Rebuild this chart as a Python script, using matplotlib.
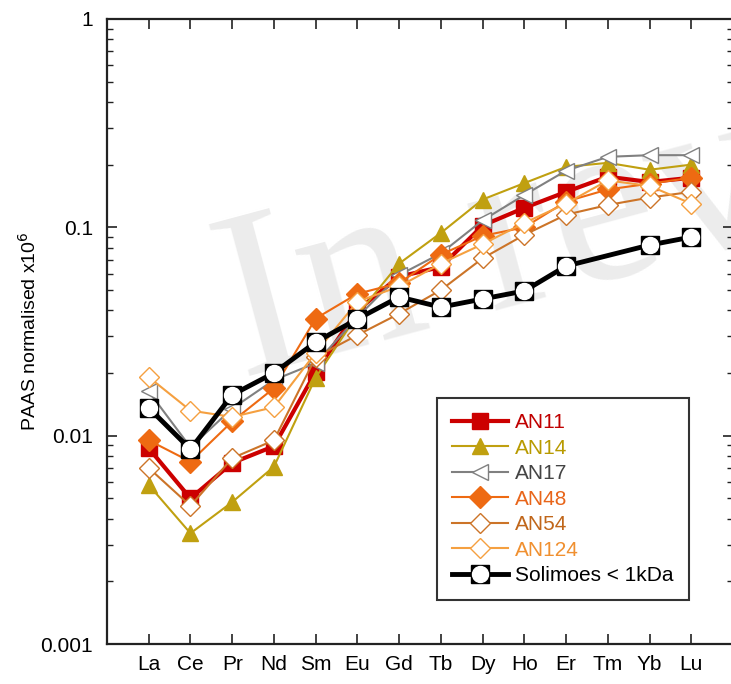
"""
REE patterns (PAAS normalised) for AN samples vs Solimoes < 1kDa, log scale.
"""

import matplotlib
matplotlib.use("Agg")
import matplotlib.pyplot as plt
import numpy as np
from matplotlib.legend_handler import HandlerTuple

plt.rcParams["font.family"] = ["Liberation Sans", "DejaVu Sans"]

# Data
elements = ["La", "Ce", "Pr", "Nd", "Sm", "Eu", "Gd", "Tb", "Dy", "Ho", "Er", "Tm", "Yb", "Lu"]

an11 = [0.0087, 0.0050, 0.0074, 0.0089, 0.0202, 0.040, 0.058, 0.0645, 0.102, 0.124, 0.148, 0.175, 0.165, 0.173]
an14 = [0.0058, 0.0034, 0.0048, 0.0071, 0.019, 0.038, 0.067, 0.094, 0.136, 0.163, 0.195, 0.204, 0.189, 0.200]
an17 = [0.0163, 0.0088, 0.0135, 0.0185, 0.0223, 0.037, 0.059, 0.075, 0.108, 0.143, 0.187, 0.218, 0.222, 0.222]
an48 = [0.0095, 0.0075, 0.0117, 0.0169, 0.0365, 0.048, 0.054, 0.074, 0.091, 0.100, 0.133, 0.152, 0.162, 0.173]
an54 = [0.0070, 0.0046, 0.0078, 0.0095, 0.0238, 0.0304, 0.0385, 0.050, 0.071, 0.092, 0.115, 0.128, 0.139, 0.148]
an124 = [0.0191, 0.0132, 0.0123, 0.0137, 0.025, 0.044, 0.052, 0.067, 0.083, 0.105, 0.130, 0.168, 0.158, 0.130]
# no Tm value for Solimoes
solimoes = [0.0136, 0.0086, 0.0157, 0.0200, 0.0281, 0.0363, 0.0463, 0.0414, 0.0453, 0.0495, 0.0652, np.nan, 0.0822, 0.0898]

x = np.arange(len(elements))

fig = plt.figure(figsize=(7.31, 6.84), dpi=100)
ax = fig.add_axes([107 / 731, 1 - 644 / 684, 626 / 731, 625 / 684])

# faint watermark behind the data
ax.text(0.215, 0.425, "In review", transform=ax.transAxes, fontsize=172,
        family="Liberation Serif", color="#ececec", rotation=15,
        rotation_mode="anchor", ha="left", va="baseline", zorder=0, clip_on=True)

styles = [
    ("AN11", an11, "#cc0000", "s", 12, 3.0, "#cc0000", "#c00000"),
    ("AN14", an14, "#c0a010", "^", 11, 1.5, "#c0a010", "#b89a00"),
    ("AN17", an17, "#808080", "<", 12, 1.5, "white", "#444444"),
    ("AN48", an48, "#ee6a12", "D", 11, 1.5, "#ee6a12", "#e8651a"),
    ("AN54", an54, "#cc7428", "D", 10, 1.5, "white", "#c0661a"),
    ("AN124", an124, "#f5a040", "D", 10, 1.5, "white", "#f09030"),
]

handles = []
labels = []
text_colors = []
for name, vals, col, mk, ms, lw, fc, tcol in styles:
    h, = ax.plot(x, vals, color=col, lw=lw, marker=mk, ms=ms,
                 mfc=fc, mec=col, mew=1.0, zorder=3)
    handles.append(h)
    labels.append(name)
    text_colors.append(tcol)

sol = np.array(solimoes)
ok = ~np.isnan(sol)
h_sq, = ax.plot(x[ok], sol[ok], color="black", lw=3.5, marker="s", ms=13,
                mfc="black", mec="black", zorder=4)
h_ci, = ax.plot(x[ok], sol[ok], ls="none", marker="o", ms=11.5,
                mfc="white", mec="white", zorder=5)
handles.append((h_sq, h_ci))
labels.append("Solimoes < 1kDa")
text_colors.append("black")

ax.set_yscale("log")
ax.set_ylim(0.001, 1)
ax.set_xlim(-1, 14)
ax.set_xticks(x)
ax.set_xticklabels(elements)
ax.set_yticks([0.001, 0.01, 0.1, 1])
ax.set_yticklabels(["0.001", "0.01", "0.1", "1"])

ax.tick_params(axis="both", which="both", direction="in", top=True, right=True,
               labelsize=15, color="#222222")
ax.tick_params(axis="both", which="major", length=7, width=1.2)
ax.tick_params(axis="y", which="minor", length=4, width=1.0)
ax.tick_params(axis="x", which="minor", bottom=False, top=False)
ax.tick_params(axis="y", pad=10)
ax.tick_params(axis="x", pad=8)
for sp in ax.spines.values():
    sp.set_linewidth(1.6)
    sp.set_color("#222222")

ax.set_ylabel("PAAS normalised x10$^6$", fontsize=14)
ax.yaxis.set_label_coords(-0.107, 0.5)

leg = ax.legend(handles, labels, loc="lower left", bbox_to_anchor=(0.527, 0.0704),
                borderaxespad=0, fontsize=15, handlelength=2.7, handletextpad=0.35,
                labelspacing=0.31, frameon=True, fancybox=False, borderpad=0.72,
                handler_map={tuple: HandlerTuple(ndivide=1, pad=0)})
leg.get_frame().set_edgecolor("black")
leg.get_frame().set_linewidth(1.5)
for txt, c in zip(leg.get_texts(), text_colors):
    txt.set_color(c)

fig.savefig("out.png", dpi=100)
plt.close()
